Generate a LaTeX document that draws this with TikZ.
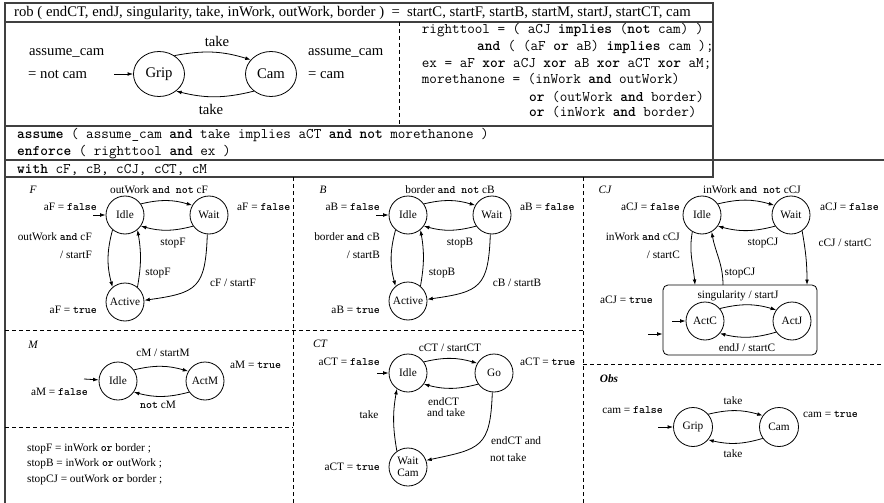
\documentclass[tikz,border=0pt]{standalone}
\usepackage{fontspec}
\setmainfont{Liberation Serif}
\usetikzlibrary{arrows.meta,shapes.geometric}
\newcommand\kw[1]{{\ttfamily\bfseries #1}}
\begin{document}
\begin{tikzpicture}[x=1pt,y=-1pt,
  big/.style={font=\fontsize{14.7}{17}\selectfont, inner sep=0pt},
  code/.style={font=\fontsize{14.7}{17}\selectfont\ttfamily, inner sep=0pt, anchor=base west},
  sm/.style={font=\fontsize{11.3}{13}\selectfont, inner sep=0pt},
  st/.style={circle, draw, line width=0.8pt, minimum size=38pt, inner sep=0pt, font=\fontsize{11.3}{12}\selectfont},
  ell/.style={ellipse, draw, line width=0.8pt, minimum width=51pt, minimum height=45pt, inner sep=0pt, font=\fontsize{14.7}{17}\selectfont},
  tr/.style={-{Latex[length=5.5pt,width=3.8pt]}, line width=0.8pt},
  frm/.style={line width=1.2pt, draw=black!75},
  sep/.style={line width=0.8pt, dash pattern=on 4pt off 3pt}
]
\useasboundingbox (0,0) rectangle (884,503);
\fill[white] (0,0) rectangle (884,503);

% ---------- frame ----------
\draw[frm] (5,503) -- (5,3) -- (713,3) -- (713,177) -- (5,177);
\draw[frm] (5,22) -- (713,22);
\draw[frm] (5,126) -- (713,126);
\draw[frm] (5,160) -- (884,160);
\draw[sep] (399,22) -- (399,126);
\draw[sep] (293,177) -- (293,503);
\draw[sep] (583,177) -- (583,503);
\draw[sep] (5,330) -- (583,330);
\draw[sep] (583,364) -- (884,364);
\draw[sep] (5,427) -- (293,427);

% ---------- header ----------
\node[big, anchor=base west] (sig) at (14,17) {rob ( endCT, endJ, singularity, take, inWork, outWork, border )\ \ =\ \ startC, startF, startB, startM, startJ, startCT, cam};

\node[big, anchor=base west] (asl1) at (29,56) {assume\_cam};
\node[big, anchor=base west] (asl2) at (28,78) {= not cam};
\node[ell] (grip) at (159,74) {Grip};
\node[ell] (cam) at (271,74) {Cam};
\coordinate (gin) at (114,74);
\draw[tr] (gin) -- (grip);
\draw[tr] (grip.50) to[bend left=14] (cam.145);
\draw[tr] (cam.-135) to[bend left=14] (grip.-45);
\node[big] (tk1) at (217,41) {take};
\node[big] (tk2) at (211,109) {take};
\node[big, anchor=base west] (asr1) at (308,56) {assume\_cam};
\node[big, anchor=base west] (asr2) at (308,78) {= cam};

\node[code] (c1) at (421.7,34) {righttool = ( aCJ \textbf{implies} (\textbf{not} cam) )};
\node[code] (c2) at (477,51) {\textbf{and} ( (aF \textbf{or} aB) \textbf{implies} cam );};
\node[code] (c3) at (421.7,67) {ex = aF \textbf{xor} aCJ \textbf{xor} aB \textbf{xor} aCT \textbf{xor} aM;};
\node[code] (c4) at (421.7,84) {morethanone = (inWork \textbf{and} outWork)};
\node[code] (c5) at (529,101) {\textbf{or} (outWork \textbf{and} border)};
\node[code] (c6) at (529,117) {\textbf{or} (inWork \textbf{and} border)};

\node[code] (as) at (17,139) {\textbf{assume} ( assume\_cam \textbf{and} take implies aCT \textbf{and} \textbf{not} morethanone )};
\node[code] (en) at (17,155) {\textbf{enforce} ( righttool \textbf{and} ex )};
\node[code] (wi) at (17,173) {\textbf{with} cF, cB, cCJ, cCT, cM};

% ---------- F ----------
\node[sm, font=\fontsize{11.3}{13}\selectfont\itshape] (fT) at (33,190) {F};
\node[st] (fI) at (125,215) {Idle};
\node[st] (fW) at (209,215) {Wait};
\node[st] (fA) at (125,302) {Active};
\coordinate (fin) at (93,215);
\draw[tr] (fin) -- (fI);
\draw[tr] (fI.35) to[bend left=15] (fW.150);
\draw[tr] (fW.-145) to[bend left=15] (fI.-35);
\draw[tr] (fI.-130) to[out=-105,in=105] (fA.130);
\draw[tr] (fA.50) to[out=80,in=-80] (fI.-50);
\draw[tr] (fW.-95) to[out=-92,in=8,looseness=1.5] (fA.5);
\node[sm] (fl1) at (159,190) {outWork \kw{and not} cF};
\node[sm, anchor=east] (fl2) at (97,207) {aF = \kw{false}};
\node[sm, anchor=west] (fl3) at (237,207) {aF = \kw{false}};
\node[sm, anchor=east] (fl4) at (92,237) {outWork \kw{and} cF};
\node[sm, anchor=east] (fl5) at (92,255) {/ startF};
\node[sm] (fl6) at (173,243) {stopF};
\node[sm] (fl7) at (158,273) {stopF};
\node[sm] (fl8) at (233,283) {cF / startF};
\node[sm, anchor=east] (fl9) at (97,310) {aF = \kw{true}};

% ---------- B ----------
\node[sm, font=\fontsize{11.3}{13}\selectfont\itshape] (bT) at (323,190) {B};
\node[st] (bI) at (408,215) {Idle};
\node[st] (bW) at (492,215) {Wait};
\node[st] (bA) at (408,301) {Active};
\coordinate (bin) at (376,215);
\draw[tr] (bin) -- (bI);
\draw[tr] (bI.35) to[bend left=15] (bW.150);
\draw[tr] (bW.-145) to[bend left=15] (bI.-35);
\draw[tr] (bI.-130) to[out=-105,in=105] (bA.130);
\draw[tr] (bA.50) to[out=80,in=-80] (bI.-50);
\draw[tr] (bW.-95) to[out=-92,in=8,looseness=1.5] (bA.5);
\node[sm] (bl1) at (450,190) {border \kw{and not} cB};
\node[sm, anchor=east] (bl2) at (380,207) {aB = \kw{false}};
\node[sm, anchor=west] (bl3) at (520,207) {aB = \kw{false}};
\node[sm, anchor=east] (bl4) at (380,237) {border \kw{and} cB};
\node[sm, anchor=east] (bl5) at (380,255) {/ startB};
\node[sm] (bl6) at (460,243) {stopB};
\node[sm] (bl7) at (442,273) {stopB};
\node[sm] (bl8) at (517,283) {cB / startB};
\node[sm, anchor=east] (bl9) at (380,310) {aB = \kw{true}};

% ---------- CJ ----------
\node[sm, font=\fontsize{11.3}{13}\selectfont\itshape] (cT) at (605,190) {CJ};
\node[st] (cI) at (702,215) {Idle};
\node[st] (cW) at (791,215) {Wait};
\node[draw, rounded corners=5pt, line width=0.8pt, minimum width=154pt, minimum height=70pt, inner sep=0pt] (cbox) at (740,320) {};
\node[st] (cC) at (705,321) {ActC};
\node[st] (cJ) at (792,321) {ActJ};
\coordinate (cbin1) at (695,285);
\coordinate (cbout) at (723,285);
\coordinate (cbin2) at (807,285);
\draw[tr] (cI.-120) to[out=-100,in=95] (cbin1);
\draw[tr] (cbout) to[out=90,in=-80] (cI.-60);
\draw[tr] (cW.-55) to[out=-80,in=90] (cbin2);
\draw[tr] (cI.35) to[bend left=15] (cW.150);
\draw[tr] (cW.-145) to[bend left=15] (cI.-35);
\draw[tr] (cC.40) to[bend left=15] (cJ.145);
\draw[tr] (cJ.-145) to[bend left=15] (cC.-40);
\coordinate (cCin) at (672,321);
\draw[tr] (cCin) -- (cC);
\coordinate (cbinit) at (648,334);
\draw[tr] (cbinit) -- (cbinit -| cbox.west);
\node[sm] (cl1) at (752,190) {inWork \kw{and not} cCJ};
\node[sm, anchor=east] (cl2) at (680,207) {aCJ = \kw{false}};
\node[sm, anchor=west] (cl3) at (820,207) {aCJ = \kw{false}};
\node[sm, anchor=east] (cl4) at (680,237) {inWork \kw{and} cCJ};
\node[sm, anchor=east] (cl5) at (680,255) {/ startC};
\node[sm] (cl6) at (763,243) {stopCJ};
\node[sm] (cl7) at (845,243) {cCJ / startC};
\node[sm] (cl8) at (740,273) {stopCJ};
\node[sm, anchor=east] (cl9) at (653,300) {aCJ = \kw{true}};
\node[sm] (cl10) at (738,296) {singularity / startJ};
\node[sm] (cl11) at (747,348) {endJ / startC};

% ---------- M ----------
\node[sm, font=\fontsize{11.3}{13}\selectfont\itshape] (mT) at (33,345) {M};
\node[st] (mI) at (118,381) {Idle};
\node[st] (mA) at (205,381) {ActM};
\coordinate (min) at (84,379);
\draw[tr] (min) -- (mI);
\draw[tr] (mI.35) to[bend left=15] (mA.150);
\draw[tr] (mA.-145) to[bend left=15] (mI.-35);
\node[sm] (ml1) at (163,353) {cM / startM};
\node[sm] (ml2) at (158,405) {\kw{not} cM};
\node[sm, anchor=east] (ml3) at (88,392) {aM = \kw{false}};
\node[sm, anchor=west] (ml4) at (230,365) {aM = \kw{true}};
\node[sm, anchor=base west] (s1) at (27,451) {stopF = inWork \kw{or} border ;};
\node[sm, anchor=base west] (s2) at (27,466) {stopB = inWork \kw{or} outWork ;};
\node[sm, anchor=base west] (s3) at (27,482) {stopCJ = outWork \kw{or} border ;};

% ---------- CT ----------
\node[sm, font=\fontsize{11.3}{13}\selectfont\itshape] (tT) at (320,344) {CT};
\node[st] (tI) at (408,373) {Idle};
\node[st] (tG) at (494,373) {Go};
\node[st, align=center, font=\fontsize{11.3}{11.5}\selectfont] (tW) at (408,467) {Wait\\Cam};
\coordinate (tin) at (377,373);
\draw[tr] (tin) -- (tI);
\draw[tr] (tI.35) to[bend left=15] (tG.150);
\draw[tr] (tG.-145) to[bend left=15] (tI.-35);
\draw[tr] (tG.-95) to[out=-92,in=12,looseness=1.5] (tW.20);
\draw[tr] (tW.125) to[out=100,in=-100] (tI.-125);
\node[sm] (tl1) at (450,348) {cCT / startCT};
\node[sm, anchor=east] (tl2) at (380,362) {aCT = \kw{false}};
\node[sm, anchor=west] (tl3) at (520,362) {aCT = \kw{true}};
\node[sm, anchor=west] (tl4) at (428,402) {endCT};
\node[sm, anchor=west] (tl5) at (427,413) {and take};
\node[sm] (tl6) at (369,415) {take};
\node[sm, anchor=west] (tl7) at (491,441) {endCT and};
\node[sm, anchor=west] (tl8) at (490,458) {not take};
\node[sm, anchor=east] (tl9) at (380,467) {aCT = \kw{true}};

% ---------- Obs ----------
\node[sm, font=\fontsize{11.3}{13}\selectfont\bfseries\itshape] (oT) at (609,379) {Obs};
\node[st, minimum size=39pt] (oG) at (693,427) {Grip};
\node[st, minimum size=39pt] (oC) at (779,427) {Cam};
\coordinate (oin) at (658,427);
\draw[tr] (oin) -- (oG);
\draw[tr] (oG.40) to[bend left=15] (oC.145);
\draw[tr] (oC.-145) to[bend left=15] (oG.-40);
\node[sm, anchor=east] (ol1) at (663,410) {cam = \kw{false}};
\node[sm, anchor=west] (ol2) at (803,414) {cam = \kw{true}};
\node[sm] (ol3) at (733,401) {take};
\node[sm] (ol4) at (733,454) {take};
\end{tikzpicture}
\end{document}
